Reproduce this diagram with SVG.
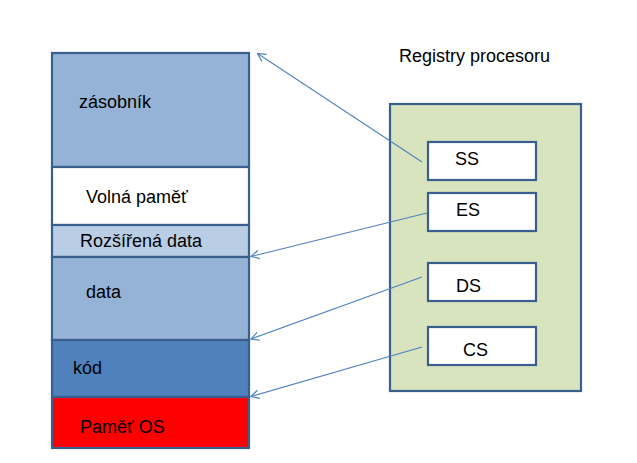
<svg xmlns="http://www.w3.org/2000/svg" width="637" height="463" viewBox="0 0 637 463">
<defs>
<marker id="arr" markerUnits="userSpaceOnUse" markerWidth="12" markerHeight="10" refX="11" refY="5" orient="auto" viewBox="0 0 12 10">
<path d="M3,0.8 L11,5 L3,9.2" fill="none" stroke="#4F81BD" stroke-width="1.2"/>
</marker>
<style>
.blk{stroke:#3A5F8F;stroke-width:2.2}
.t{font-family:"Liberation Sans",Arial,sans-serif;font-size:18px;fill:#000}
.c{fill:none;stroke:#4F81BD;stroke-width:1.1}
</style>
</defs>
<rect width="637" height="463" fill="#fff"/>
<g id="mem-zasobnik"><rect class="blk" x="52" y="53" width="197" height="114" fill="#95B3D7"/><text class="t" x="79" y="108">zásobník</text></g>
<g id="mem-volna"><rect class="blk" x="52" y="167" width="197" height="58" fill="#FFFFFF"/><text class="t" x="86" y="203">Volná paměť</text></g>
<g id="mem-rozsirena"><rect class="blk" x="52" y="225" width="197" height="32" fill="#B9CDE5"/><text class="t" x="80" y="247">Rozšířená data</text></g>
<g id="mem-data"><rect class="blk" x="52" y="257" width="197" height="83" fill="#95B3D7"/><text class="t" x="86" y="298">data</text></g>
<g id="mem-kod"><rect class="blk" x="52" y="340" width="197" height="57" fill="#4F81BD"/><text class="t" x="73" y="374">kód</text></g>
<g id="mem-os"><rect class="blk" x="52" y="397" width="197" height="51" fill="#FF0000"/><text class="t" x="80" y="433">Paměť OS</text></g>
<g id="registry">
<text class="t" x="399" y="62">Registry procesoru</text>
<rect class="blk" x="390" y="104" width="191" height="287" fill="#D7E4BD"/>
</g>
<g id="reg-ss"><rect class="blk" x="428" y="142" width="108" height="38" fill="#fff"/><text class="t" x="455" y="165">SS</text></g>
<g id="reg-es"><rect class="blk" x="428" y="193" width="108" height="38" fill="#fff"/><text class="t" x="456" y="216">ES</text></g>
<g id="reg-ds"><rect class="blk" x="428" y="263" width="108" height="38" fill="#fff"/><text class="t" x="456" y="292">DS</text></g>
<g id="reg-cs"><rect class="blk" x="428" y="327" width="108" height="38" fill="#fff"/><text class="t" x="463" y="356">CS</text></g>
<g id="connectors">
<line class="c" x1="422" y1="162" x2="257.5" y2="53.5" marker-end="url(#arr)"/>
<line class="c" x1="427" y1="213" x2="251" y2="256.5" marker-end="url(#arr)"/>
<line class="c" x1="422" y1="277" x2="251" y2="339" marker-end="url(#arr)"/>
<line class="c" x1="422" y1="347" x2="251" y2="396.5" marker-end="url(#arr)"/>
</g>
</svg>
